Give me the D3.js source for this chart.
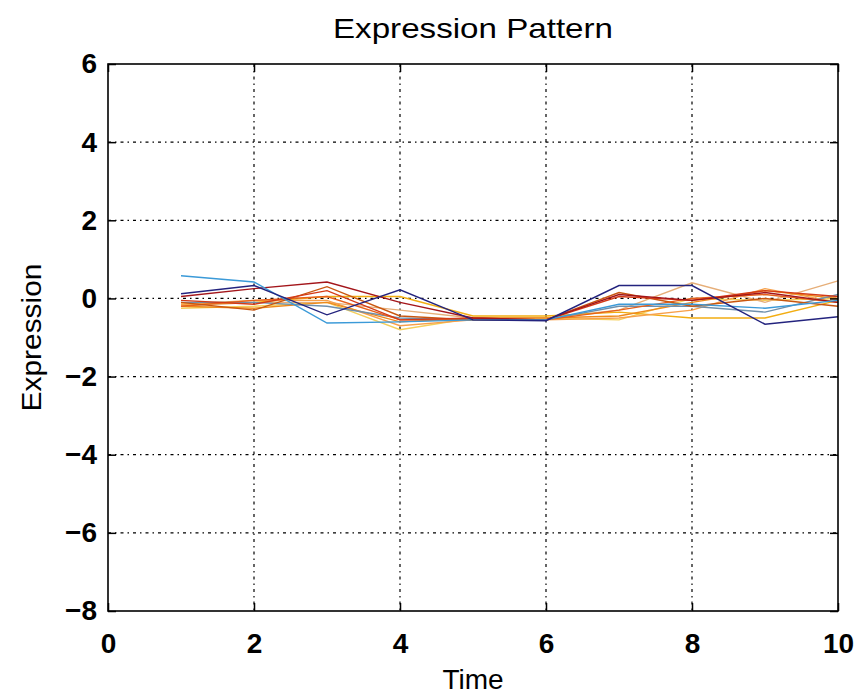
<!DOCTYPE html>
<html>
<head>
<meta charset="utf-8">
<script src="https://cdn.jsdelivr.net/npm/d3@7"></script>
<style>
  body { margin: 0; background: #fff; }
  text { font-family: "Liberation Sans", Arial, sans-serif; fill: #000; }
</style>
</head>
<body>
<svg id="chart" width="863" height="698"></svg>
<script>
const times = [1, 2, 3, 4, 5, 6, 7, 8, 9, 10];
const xTicks = [0, 2, 4, 6, 8, 10];
const yTicks = [-8, -6, -4, -2, 0, 2, 4, 6];

const navy = [0.12, 0.33, -0.42, 0.22, -0.55, -0.57, 0.33, 0.33, -0.66, -0.47];
const lightBlue = [0.58, 0.42, -0.63, -0.6, -0.55, -0.55, -0.15, -0.15, -0.25, -0.05];
const darkRed = [0.05, 0.25, 0.42, -0.1, -0.5, -0.55, 0.1, -0.05, 0.15, -0.1];
const red = [-0.05, -0.15, 0.2, -0.55, -0.5, -0.55, 0.05, -0.05, 0.2, 0.05];
const orangeRed = [-0.2, -0.05, 0.05, -0.55, -0.55, -0.55, -0.3, 0.0, 0.1, -0.1];
const orange = [-0.2, -0.25, -0.1, -0.6, -0.5, -0.5, -0.45, -0.1, 0.2, 0.0];
const gold = [-0.15, -0.1, 0.05, 0.05, -0.45, -0.45, -0.35, -0.5, -0.5, -0.05];
const yellow = [-0.25, -0.2, -0.1, -0.8, -0.5, -0.5, -0.55, 0.0, -0.05, 0.0];
const tan = [-0.2, -0.1, -0.1, -0.3, -0.5, -0.5, -0.3, 0.4, -0.1, 0.45];
const slate = [-0.1, -0.1, -0.2, -0.5, -0.55, -0.55, -0.2, -0.2, -0.35, 0.1];
const darkOrange = [-0.1, -0.3, 0.3, -0.45, -0.55, -0.55, 0.15, -0.2, 0.0, -0.2];
const lightOrange = [-0.15, -0.05, -0.05, -0.7, -0.55, -0.55, -0.5, -0.3, 0.25, -0.1];

const series = [
  { values: yellow, color: '#f5cf5a' },
  { values: tan, color: '#e6ae78' },
  { values: gold, color: '#f2ad12' },
  { values: lightOrange, color: '#f7a04a' },
  { values: orange, color: '#ee8a1c' },
  { values: slate, color: '#6f8fab' },
  { values: orangeRed, color: '#e6601c' },
  { values: darkOrange, color: '#c9560f' },
  { values: red, color: '#d43a16' },
  { values: darkRed, color: '#a3151a' },
  { values: lightBlue, color: '#3b9ad8' },
  { values: navy, color: '#23237e' },
];

const margin = { top: 64, right: 25, bottom: 87, left: 108 };
const width = 863 - margin.left - margin.right;
const height = 698 - margin.top - margin.bottom;

const svg = d3.select('#chart');
const g = svg.append('g').attr('transform', `translate(${margin.left},${margin.top})`);

const x = d3.scaleLinear().domain([0, 10]).range([0, width]);
const y = d3.scaleLinear().domain([-8, 6]).range([height, 0]);

// grid
const gridDash = '3,4,1.5,4';
g.append('g')
  .selectAll('line')
  .data(xTicks.slice(1, -1))
  .join('line')
  .attr('x1', (d) => x(d))
  .attr('x2', (d) => x(d))
  .attr('y1', 0)
  .attr('y2', height)
  .attr('stroke', '#000')
  .attr('stroke-width', 1.2)
  .attr('stroke-dasharray', gridDash);
g.append('g')
  .selectAll('line')
  .data(yTicks.slice(1, -1))
  .join('line')
  .attr('x1', 0)
  .attr('x2', width)
  .attr('y1', (d) => y(d))
  .attr('y2', (d) => y(d))
  .attr('stroke', '#000')
  .attr('stroke-width', 1.2)
  .attr('stroke-dasharray', gridDash);

// lines
const line = d3.line()
  .x((d, i) => x(times[i]))
  .y((d) => y(d));
g.append('g')
  .selectAll('path')
  .data(series)
  .join('path')
  .attr('fill', 'none')
  .attr('stroke', (d) => d.color)
  .attr('stroke-width', 1.4)
  .attr('d', (d) => line(d.values));

// axes (inward ticks on all four sides)
const tickLen = 8;
const styleAxis = (sel) => {
  sel.select('.domain').remove();
  sel.selectAll('.tick line').attr('stroke', '#000').attr('stroke-width', 1.5);
};
g.append('g')
  .attr('transform', `translate(0,${height})`)
  .call(d3.axisBottom(x).tickValues(xTicks).tickSize(-tickLen).tickPadding(22))
  .call(styleAxis)
  .call((s) => s.selectAll('text')
    .attr('font-size', 28).attr('font-weight', 'bold')
    .attr('font-family', '"Liberation Sans", Arial, sans-serif').attr('dy', '0.71em'));
g.append('g')
  .call(d3.axisTop(x).tickValues(xTicks).tickSize(-tickLen).tickFormat(''))
  .call(styleAxis);
g.append('g')
  .call(d3.axisLeft(y).tickValues(yTicks).tickSize(-tickLen).tickPadding(11))
  .call(styleAxis)
  .call((s) => s.selectAll('text')
    .attr('font-size', 28).attr('font-weight', 'bold')
    .attr('font-family', '"Liberation Sans", Arial, sans-serif')
    .text((d) => (d < 0 ? '\u2212' + Math.abs(d) : d)));
g.append('g')
  .attr('transform', `translate(${width},0)`)
  .call(d3.axisRight(y).tickValues(yTicks).tickSize(-tickLen).tickFormat(''))
  .call(styleAxis);

// box
g.append('rect')
  .attr('width', width)
  .attr('height', height)
  .attr('fill', 'none')
  .attr('stroke', '#000')
  .attr('stroke-width', 1.6);

// labels (reference text is a little stretched sideways)
svg.append('text')
  .attr('x', margin.left + width / 2)
  .attr('y', 38)
  .attr('text-anchor', 'middle')
  .attr('font-size', 28)
  .attr('textLength', 280)
  .attr('lengthAdjust', 'spacingAndGlyphs')
  .text('Expression Pattern');
svg.append('text')
  .attr('x', margin.left + width / 2)
  .attr('y', 689)
  .attr('text-anchor', 'middle')
  .attr('font-size', 28)
  .text('Time');
svg.append('text')
  .attr('transform', `translate(41,${margin.top + height / 2}) rotate(-90)`)
  .attr('text-anchor', 'middle')
  .attr('font-size', 28)
  .attr('textLength', 148)
  .attr('lengthAdjust', 'spacingAndGlyphs')
  .text('Expression');
</script>
</body>
</html>
